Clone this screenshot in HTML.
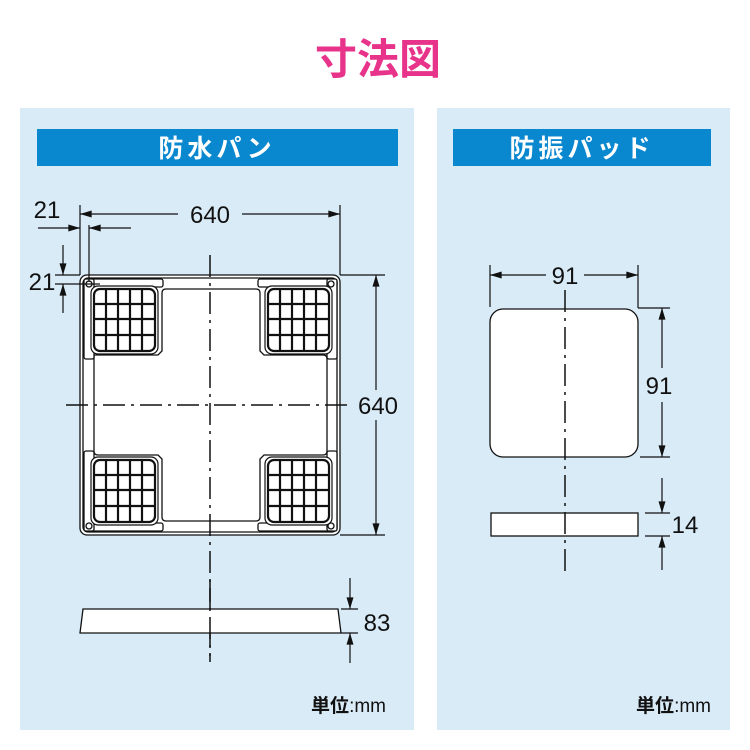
<!DOCTYPE html>
<html><head><meta charset="utf-8"><style>
html,body{margin:0;padding:0;background:#fff;}
svg{display:block;}
text{font-family:"Liberation Sans","Noto Sans CJK JP",sans-serif;}
</style></head><body>
<svg width="750" height="750" viewBox="0 0 750 750" xmlns="http://www.w3.org/2000/svg">
<defs>
<marker id="a" viewBox="0 0 10 6" refX="10" refY="3" markerWidth="13" markerHeight="7" markerUnits="userSpaceOnUse" orient="auto-start-reverse"><path d="M0,0 L10,3 L0,6 Z" fill="#111"/></marker>
<g id="pad">
<rect x="0" y="0" width="67" height="68" rx="7" fill="#fff" stroke="#111" stroke-width="1.2"/>
<rect x="3" y="3" width="61" height="62" rx="6" fill="#fff" stroke="#111" stroke-width="2.2"/>
<g stroke="#111" stroke-width="2.2">
<line x1="15" y1="3" x2="15" y2="65"/><line x1="27" y1="3" x2="27" y2="65"/><line x1="39" y1="3" x2="39" y2="65"/><line x1="51" y1="3" x2="51" y2="65"/>
<line x1="3" y1="18" x2="64" y2="18"/><line x1="3" y1="33" x2="64" y2="33"/><line x1="3" y1="49" x2="64" y2="49"/>
</g>
</g>
</defs>
<text x="378" y="74" text-anchor="middle" font-size="42" font-weight="bold" fill="#e8338a">寸法図</text>
<rect x="20" y="108" width="394" height="622" fill="#d8ebf7"/>
<rect x="437" y="108" width="293" height="622" fill="#d8ebf7"/>
<rect x="37" y="129" width="361" height="37" fill="#0a88cf"/>
<rect x="453" y="129" width="258" height="37" fill="#0a88cf"/>
<text x="217" y="157" text-anchor="middle" font-size="25" font-weight="bold" fill="#fff" letter-spacing="4">防水パン</text>
<text x="582" y="157" text-anchor="middle" font-size="25" font-weight="bold" fill="#fff" letter-spacing="4">防振パッド</text>

<g stroke="#111" fill="none" stroke-width="1.3">
<rect x="80" y="275" width="260" height="260" rx="7" fill="#fff"/>
<rect x="83" y="278" width="254" height="254" rx="5"/>
<path d="M94,355 L158,355 L162,351 L162,293 Q162,289 166,289 L256,289 Q260,289 260,293 L260,351 L264,355 L323,355 Q327,355 327,359 L327,451 Q327,455 323,455 L264,455 L260,459 L260,517 Q260,521 256,521 L166,521 Q162,521 162,517 L162,459 L158,455 L98,455 Q94,455 94,451 L94,359 Z" fill="#fff"/>
<rect x="84" y="279" width="79" height="8" rx="2" fill="#fff"/>
<rect x="258" y="279" width="79" height="8" rx="2" fill="#fff"/>
<rect x="84" y="523" width="79" height="8" rx="2" fill="#fff"/>
<rect x="258" y="523" width="79" height="8" rx="2" fill="#fff"/>
<rect x="84" y="279" width="10" height="80" rx="2" fill="#fff"/>
<rect x="327" y="279" width="10" height="80" rx="2" fill="#fff"/>
<rect x="84" y="451" width="10" height="80" rx="2" fill="#fff"/>
<rect x="327" y="451" width="10" height="80" rx="2" fill="#fff"/>
<circle cx="89" cy="284" r="3"/><circle cx="331" cy="284" r="3"/><circle cx="89" cy="526" r="3"/><circle cx="331" cy="526" r="3"/>
</g>
<use href="#pad" x="91" y="286"/>
<use href="#pad" x="265" y="286"/>
<use href="#pad" x="91" y="457"/>
<use href="#pad" x="265" y="457"/>

<g stroke="#111" stroke-width="1.5" stroke-dasharray="22,6,3,6" fill="none">
<line x1="210" y1="255" x2="210" y2="662"/>
<line x1="66" y1="405" x2="350" y2="405"/>
</g>

<path d="M83,609 L338,609 L341,633 L80,633 Z" fill="#fff" stroke="#111" stroke-width="1.3"/>
<line x1="210" y1="580" x2="210" y2="662" stroke="#111" stroke-width="1.5" stroke-dasharray="22,6,3,6"/>

<g stroke="#111" stroke-width="1.2" fill="none">
<line x1="80" y1="205" x2="80" y2="275"/><line x1="340" y1="205" x2="340" y2="275"/>
<line x1="80" y1="214" x2="178" y2="214" marker-start="url(#a)"/>
<line x1="242" y1="214" x2="340" y2="214" marker-end="url(#a)"/>
<line x1="89" y1="225" x2="89" y2="282"/>
<line x1="38" y1="228" x2="80" y2="228" marker-end="url(#a)"/>
<line x1="89" y1="228" x2="131" y2="228" marker-start="url(#a)"/>
<line x1="55" y1="275" x2="80" y2="275"/><line x1="55" y1="284" x2="100" y2="284"/>
<line x1="63" y1="245" x2="63" y2="275" marker-end="url(#a)"/>
<line x1="63" y1="284" x2="63" y2="313" marker-start="url(#a)"/>
<line x1="340" y1="275" x2="385" y2="275"/><line x1="340" y1="535" x2="385" y2="535"/>
<line x1="376" y1="275" x2="376" y2="390" marker-start="url(#a)"/>
<line x1="376" y1="420" x2="376" y2="535" marker-end="url(#a)"/>
<line x1="341" y1="609" x2="358" y2="609"/><line x1="341" y1="633" x2="358" y2="633"/>
<line x1="350" y1="578" x2="350" y2="609" marker-end="url(#a)"/>
<line x1="350" y1="633" x2="350" y2="663" marker-start="url(#a)"/>
</g>
<g font-size="24" fill="#111">
<text x="210" y="223" text-anchor="middle">640</text>
<text x="47" y="218" text-anchor="middle">21</text>
<text x="42" y="290" text-anchor="middle">21</text>
<text x="378" y="414" text-anchor="middle">640</text>
<text x="377" y="631" text-anchor="middle">83</text>
</g>

<rect x="490" y="309" width="148" height="148" rx="13" fill="#fff" stroke="#111" stroke-width="1.3"/>
<rect x="491" y="513" width="147" height="23" fill="#fff" stroke="#111" stroke-width="1.3"/>
<line x1="565" y1="290" x2="565" y2="572" stroke="#111" stroke-width="1.5" stroke-dasharray="22,6,3,6"/>
<g stroke="#111" stroke-width="1.2" fill="none">
<line x1="490" y1="265" x2="490" y2="307"/><line x1="638" y1="265" x2="638" y2="308"/>
<line x1="490" y1="275" x2="546" y2="275" marker-start="url(#a)"/>
<line x1="584" y1="275" x2="638" y2="275" marker-end="url(#a)"/>
<line x1="638" y1="308" x2="670" y2="308"/><line x1="640" y1="457" x2="670" y2="457"/>
<line x1="662" y1="308" x2="662" y2="368" marker-start="url(#a)"/>
<line x1="662" y1="402" x2="662" y2="457" marker-end="url(#a)"/>
<line x1="645" y1="513" x2="670" y2="513"/><line x1="645" y1="536" x2="670" y2="536"/>
<line x1="662" y1="478" x2="662" y2="513" marker-end="url(#a)"/>
<line x1="662" y1="536" x2="662" y2="570" marker-start="url(#a)"/>
</g>
<g font-size="24" fill="#111">
<text x="565" y="284" text-anchor="middle">91</text>
<text x="659" y="394" text-anchor="middle">91</text>
<text x="685" y="533" text-anchor="middle">14</text>
</g>
<text x="386" y="712" text-anchor="end" font-size="19" fill="#111"><tspan font-weight="bold">単位</tspan>:mm</text>
<text x="711" y="712" text-anchor="end" font-size="19" fill="#111"><tspan font-weight="bold">単位</tspan>:mm</text>
</svg>
</body></html>
